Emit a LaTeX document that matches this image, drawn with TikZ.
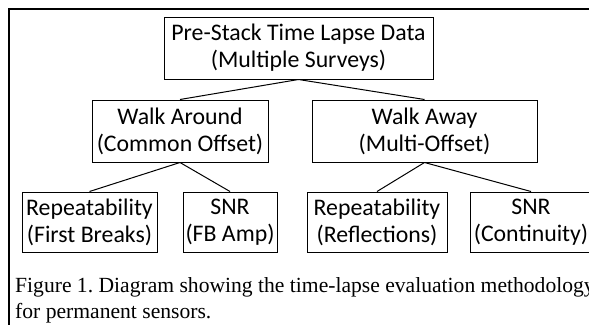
\documentclass[tikz,border=0pt]{standalone}
\usepackage{fontspec}
\setmainfont{Liberation Serif}
\newfontfamily\boxfont{Carlito}
\usetikzlibrary{positioning}
\frenchspacing
\tikzset{
  blk/.style={draw,rectangle,line width=1pt,inner sep=0pt,align=center,font=\boxfont\fontsize{23.8}{27}\selectfont},
  lnk/.style={line width=1pt},
  capt/.style={inner sep=0pt,align=left,font=\fontsize{21.6}{26}\selectfont}
}
\begin{document}
\begin{tikzpicture}[x=1pt,y=-1pt]
  \path[use as bounding box, clip] (0,0) rectangle (589,324);
  % Outer frame
  \draw[line width=2pt] (9,9) rectangle (640,360);

  % Top level
  \node[blk, minimum width=269pt, minimum height=62pt] (data) at (298.5,48) {Pre-Stack Time Lapse Data\\(Multiple Surveys)};

  % Middle level
  \node[blk, minimum width=176pt, minimum height=62pt] (around) at (180,131) {Walk Around\\(Common Offset)};
  \node[blk, minimum width=225pt, minimum height=62pt] (away) at (424.5,131) {Walk Away\\(Multi-Offset)};

  % Bottom level
  \node[blk, minimum width=135pt, minimum height=60pt] (rep1) at (89.5,222) {Repeatability\\(First Breaks)};
  \node[blk, minimum width=94pt, minimum height=60pt] (snr1) at (230,222) {SNR\\(FB Amp)};
  \node[blk, minimum width=140pt, minimum height=60pt] (rep2) at (377,222) {Repeatability\\(Reflections)};
  \node[blk, minimum width=122pt, minimum height=60pt] (snr2) at (531,222) {SNR\\(Continuity)};

  % Connections
  \foreach \t in {around,away}
    \draw[lnk] (data.south) -- (\t.north);
  \foreach \t in {rep1,snr1}
    \draw[lnk] (around.south) -- (\t.north);
  \foreach \t in {rep2,snr2}
    \draw[lnk] (away.south) -- (\t.north);

  % Caption
  \node[capt, anchor=base west] (cap) at (15,318) {Figure 1. Diagram showing the time-lapse evaluation methodology\\for permanent sensors.};
\end{tikzpicture}
\end{document}
